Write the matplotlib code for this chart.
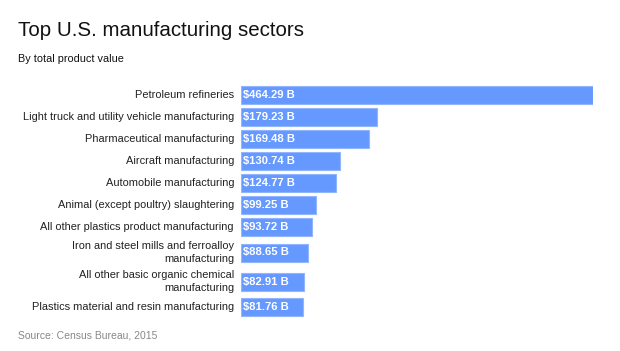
import matplotlib
matplotlib.use("Agg")
import matplotlib.pyplot as plt
from matplotlib.transforms import offset_copy

categories = [
    "Petroleum refineries",
    "Light truck and utility vehicle manufacturing",
    "Pharmaceutical manufacturing",
    "Aircraft manufacturing",
    "Automobile manufacturing",
    "Animal (except poultry) slaughtering",
    "All other plastics product manufacturing",
    "Iron and steel mills and ferroalloy\nmanufacturing",
    "All other basic organic chemical\nmanufacturing",
    "Plastics material and resin manufacturing",
]
values = [464.29, 179.23, 169.48, 130.74, 124.77, 99.25, 93.72, 88.65, 82.91, 81.76]
value_labels = ["$%.2f B" % v for v in values]

title = "Top U.S. manufacturing sectors"
subtitle = "By total product value"
source = "Source: Census Bureau, 2015"

plt.rcParams['font.family'] = ['Liberation Sans', 'DejaVu Sans']

W, H = 620, 351
fig = plt.figure(figsize=(W / 100, H / 100), dpi=100)

# layout in pixels
x0, x1 = 241, 593
y_top, y_bot = 80, 322
ax = fig.add_axes([x0 / W, 1 - y_bot / H, (x1 - x0) / W, (y_bot - y_top) / H])

# row centres from label line counts
half = {1: 11.0, 2: 14.5}
pos = []
y = 84.0
for c in categories:
    h = half[c.count("\n") + 1]
    y += h
    pos.append(y)
    y += h

ax.barh(pos, values, height=18, color="#6699ff", edgecolor="#92b5ff", linewidth=0.8)
ax.set_xlim(0, max(values))
ax.set_ylim(y_bot, y_top)
ax.axis("off")

lab_tr = offset_copy(ax.transData, fig=fig, x=-7, y=0, units="dots")
val_tr = offset_copy(ax.transData, fig=fig, x=2, y=0, units="dots")
for p, c, v in zip(pos, categories, value_labels):
    ax.text(0, p, c, transform=lab_tr, ha="right", va="center", fontsize=7.9,
            color="#222222", linespacing=1.4)
    ax.text(0, p, v, transform=val_tr, ha="left", va="center", fontsize=8.1,
            color="white", fontweight="bold")

fig.text(18 / W, 1 - 30 / H, title, fontsize=14.75, color="#111111", ha="left", va="center")
fig.text(18 / W, 1 - 59 / H, subtitle, fontsize=7.8, color="#111111", ha="left", va="center")
fig.text(18 / W, 1 - 336 / H, source, fontsize=7.5, color="#888888", ha="left", va="center")

fig.savefig("out.png", dpi=100)
